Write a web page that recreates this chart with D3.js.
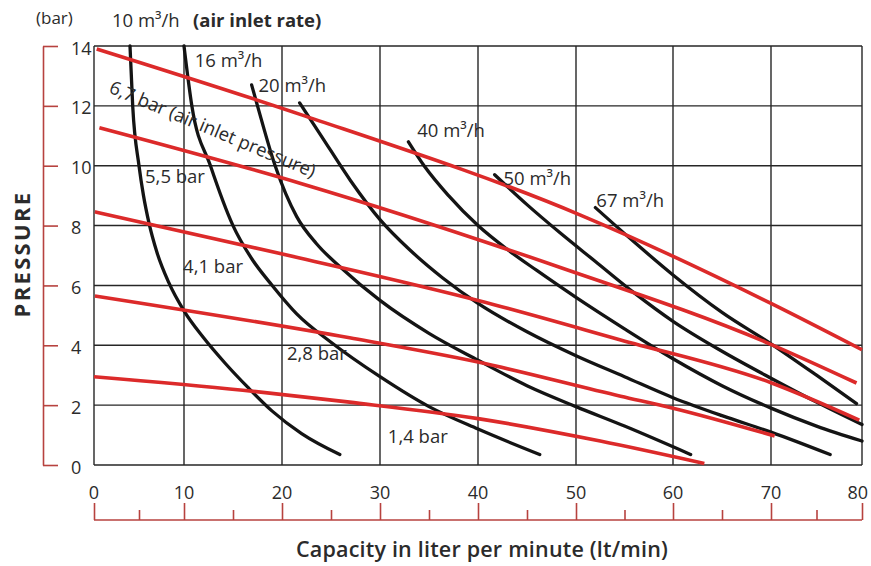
<!DOCTYPE html>
<html><head><meta charset="utf-8">
<script src="https://cdn.jsdelivr.net/npm/d3@7"></script>
<style>
body{margin:0;background:#fff}
svg{display:block}
text{font-family:"Open Sans",Lato,sans-serif;fill:#2b2b2b}
</style></head>
<body><svg id="chart" width="871" height="566"></svg>
<script>
// ---------- data ----------
const xTicks = [0,10,20,30,40,50,60,70,80];
const xMinorTicks = [5,15,25,35,45,55,65,75];
const yTicks = [0,2,4,6,8,10,12,14];

// air inlet rate curves (black): capacity lt/min vs pressure bar
const flowNames = ["10 m³/h","16 m³/h","20 m³/h","","40 m³/h","50 m³/h","67 m³/h"];
const flow10 = [[4.0,14],[4.3,12],[5.0,10],[5.5,9],[6.1,8.1],[7.0,7.1],[8.3,6.1],[10,5.15],[12,4.25],[14.2,3.4],[16.5,2.6],[19,1.8],[22,1.05],[25.9,0.35]];
const flow16 = [[10,14],[10.8,12],[12.7,10],[15,8],[17,6.85],[19,6.0],[21.5,5.05],[25,4.1],[30,2.95],[35,1.95],[40,1.2],[46.3,0.35]];
const flow20 = [[16.9,12.7],[17.5,12],[19.3,10],[21.5,8.3],[23.5,7.4],[26,6.6],[30,5.5],[35,4.4],[40,3.5],[45,2.65],[50,1.95],[55,1.3],[61.8,0.35]];
const flow30 = [[21.8,12.1],[24,11.0],[27,9.5],[30,8.2],[33,7.2],[36.4,6.25],[40,5.4],[45,4.45],[50,3.65],[55,2.95],[60,2.25],[65,1.65],[70,1.1],[76.5,0.35]];
const flow40 = [[32.9,10.8],[34.5,10],[37,9.0],[40,8.0],[43,7.2],[46,6.5],[50,5.6],[55,4.55],[60,3.55],[65,2.65],[70,1.9],[75,1.3],[80,0.8]];
const flow50 = [[41.7,9.7],[45,8.7],[48.4,7.75],[52,6.8],[56,5.75],[60,4.8],[65,3.8],[70,2.9],[75,2.1],[80,1.35]];
const flow67 = [[52,8.6],[56,7.45],[60,6.35],[65,5.1],[70,4.05],[75,3.0],[79.4,2.05]];
const flowSeries = [flow10,flow16,flow20,flow30,flow40,flow50,flow67];

// air inlet pressure lines (red)
const pressureNames = ["6,7 bar (air inlet pressure)","5,5 bar","4,1 bar","2,8 bar","1,4 bar"];
const press67 = [[0.3,13.9],[22,11.7],[50.4,8.36],[70,5.4],[80,3.85]];
const press55 = [[0.6,11.27],[22,9.4],[48.4,6.6],[69.5,4.1],[79.4,2.74]];
const press41 = [[0.1,8.46],[21.8,6.92],[40,5.5],[54.6,4.18],[70,2.75],[79.7,1.5]];
const press28 = [[0.1,5.65],[26.9,4.25],[40,3.44],[54.6,2.3],[60,1.9],[70.4,0.97]];
const press14 = [[0,2.95],[16,2.5],[26.9,2.1],[40,1.55],[52.5,0.8],[63.2,0.05]];
const pressureSeries = [press67,press55,press41,press28,press14];

// ---------- layout ----------
// grid positions of the scanned original are slightly uneven: polylinear x scale
const xRange = [94,184,282,380,478,576,673,771,862];
const flowLabelAt = [[2.0,14.63],[11.1,13.3],[17.6,12.46],null,[33.8,10.96],[42.6,9.35],[52.1,8.62]];
const pressureLabelAt = [[1.55,12.45],[5.67,9.42],[9.9,6.42],[20.5,3.5],[30.8,0.73]];

const svg = d3.select("#chart");
const x = d3.scaleLinear().domain(xTicks).range(xRange);
const y = d3.scaleLinear().domain([0,14]).range([465,46]);
const RED_AXIS = "#b7423f", RED = "#dc2a2a", INK = "#141414", GRID = "#262626";

// grid
const g = svg.append("g");
g.selectAll(".vg").data(xTicks).join("line")
  .attr("x1",d=>x(d)).attr("x2",d=>x(d)).attr("y1",y(0)).attr("y2",y(14))
  .attr("stroke",GRID).attr("stroke-width",1.4);
g.selectAll(".hg").data(yTicks).join("line")
  .attr("x1",x(0)).attr("x2",x(80)).attr("y1",d=>y(d)).attr("y2",d=>y(d))
  .attr("stroke",GRID).attr("stroke-width",1.4);

// left red axis
const ya = svg.append("g").attr("transform","translate(43,0)")
  .call(d3.axisRight(y).tickValues(yTicks).tickSize(15).tickPadding(13).tickSizeOuter(0));
ya.select(".domain").attr("stroke",RED_AXIS).attr("stroke-width",1.6);
ya.selectAll(".tick line").attr("stroke",RED_AXIS).attr("stroke-width",1.6);
ya.selectAll(".tick text").attr("fill","#333").style("font-size","18px")
  .attr("font-family","Open Sans").attr("text-anchor","start").attr("dy","0.45em");

// bottom labels + red axis with ticks upward
const xa = svg.append("g").attr("transform","translate(0,520)")
  .call(d3.axisTop(x).tickValues(xTicks).tickSize(17).tickFormat(""));
xa.select(".domain").attr("stroke",RED_AXIS).attr("stroke-width",1.6).attr("d",`M${x(0)},0H${x(80)}`);
xa.selectAll(".tick line").attr("stroke",RED_AXIS).attr("stroke-width",1.6);
const xm = svg.append("g").attr("transform","translate(0,520)")
  .call(d3.axisTop(x).tickValues(xMinorTicks).tickSize(10).tickFormat(""));
xm.select(".domain").remove();
xm.selectAll(".tick line").attr("stroke",RED_AXIS).attr("stroke-width",1.6);
svg.append("g").selectAll("text").data(xTicks).join("text")
  .attr("x",d=>d===80 ? x(d)+6 : x(d)).attr("y",499)
  .attr("text-anchor",d=>d===80 ? "end" : "middle")
  .style("font-size","18px").attr("fill","#333").text(d=>d);

// curves
const line = d3.line().x(d=>x(d[0])).y(d=>y(d[1])).curve(d3.curveMonotoneX);
svg.append("g").selectAll("path").data(flowSeries).join("path")
  .attr("d",line).attr("fill","none").attr("stroke",INK).attr("stroke-width",3.3).attr("stroke-linecap","round");
svg.append("g").selectAll("path").data(pressureSeries).join("path")
  .attr("d",line).attr("fill","none").attr("stroke",RED).attr("stroke-width",3.6).attr("stroke-linecap","butt");

// flow labels
const fl = svg.append("g");
flowNames.forEach((n,i)=>{
  if(!n) return;
  const p = flowLabelAt[i];
  fl.append("text").attr("x",x(p[0])).attr("y",y(p[1])).style("font-size","18.5px").text(n);
  if(i===0){
    fl.append("text").attr("x",x(p[0])+81).attr("y",y(p[1])).style("font-size","18.5px")
      .style("font-weight","700").text("(air inlet rate)");
  }
});
// pressure labels
pressureNames.forEach((n,i)=>{
  const p = pressureLabelAt[i];
  const t = fl.append("text").attr("x",x(p[0])).attr("y",y(p[1])).style("font-size","18.5px").text(n);
  if(i===0) t.attr("transform",`rotate(22.7 ${x(p[0])} ${y(p[1])})`);
});

// axis titles
svg.append("text").attr("x",36).attr("y",24).style("font-size","17px").text("(bar)");
svg.append("text").attr("transform","translate(30,254) rotate(-90)").attr("text-anchor","middle")
  .style("font-size","22px").style("font-weight","700").style("letter-spacing","2.3px").text("PRESSURE");
svg.append("text").attr("x",482).attr("y",557).attr("text-anchor","middle")
  .style("font-size","21.5px").style("font-weight","600").style("letter-spacing","0.2px")
  .text("Capacity in liter per minute (lt/min)");
</script></body></html>
